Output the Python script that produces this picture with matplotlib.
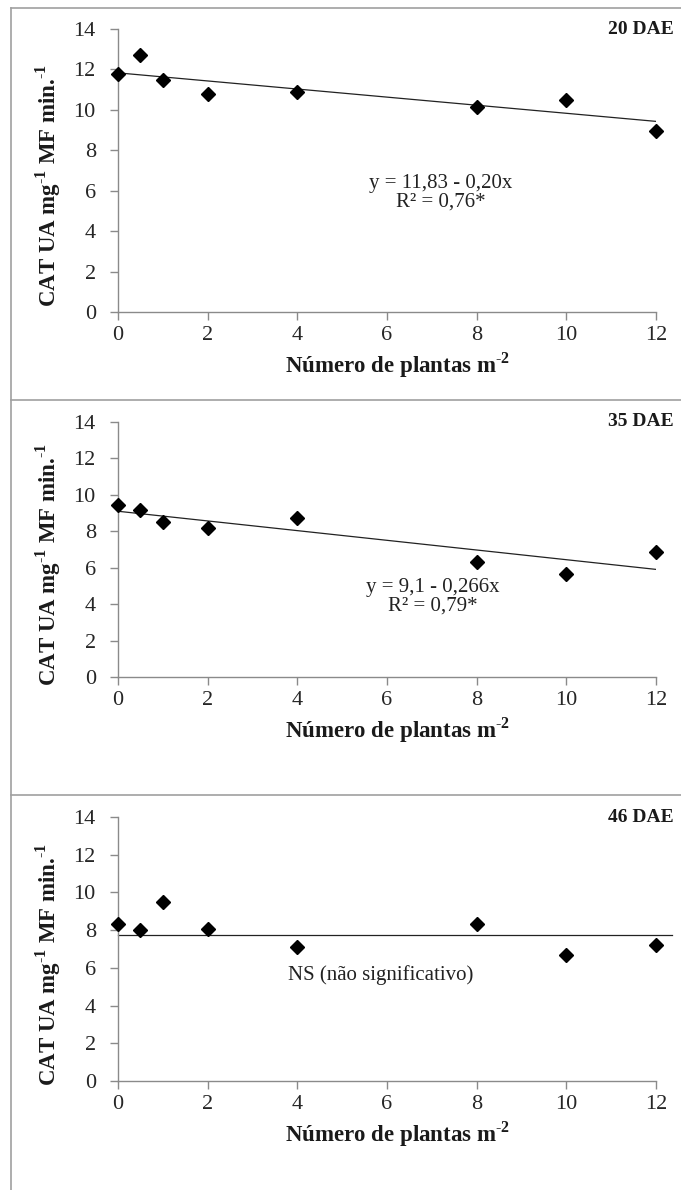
import numpy as np
import matplotlib
matplotlib.use("Agg")
import matplotlib.pyplot as plt
from matplotlib.lines import Line2D

plt.rcParams['font.family'] = ['Liberation Serif', 'DejaVu Serif']
plt.rcParams['mathtext.fontset'] = 'custom'
plt.rcParams['mathtext.rm'] = 'Liberation Serif'
plt.rcParams['mathtext.bf'] = 'Liberation Serif:bold'

# plant density (plants per m2)
densidade = [0, 0.5, 1, 2, 4, 8, 10, 12]

# CAT activity at each sampling date
cat_20 = [11.75, 12.7, 11.5, 10.8, 10.9, 10.15, 10.5, 8.95]
cat_35 = [9.45, 9.15, 8.5, 8.2, 8.75, 6.3, 5.65, 6.85]
cat_46 = [8.3, 8.0, 9.5, 8.05, 7.1, 8.3, 6.7, 7.2]

# fitted models
coef_20 = (11.83, -0.20)
coef_35 = (9.1, -0.266)
media_46 = 7.75

datas = ["20 DAE", "35 DAE", "46 DAE"]
yticks = [0, 2, 4, 6, 8, 10, 12, 14]
xticks = [0, 2, 4, 6, 8, 10, 12]

W, H = 681, 1190
fig = plt.figure(figsize=(W / 100, H / 100), dpi=100)

def px_axes(left, right, top, bottom):
    return fig.add_axes([left / W, 1 - bottom / H, (right - left) / W, (bottom - top) / H])

# panel frames
frame_kw = dict(color="#a0a0a0", lw=1.2, transform=fig.transFigure)
fig.add_artist(Line2D([11 / W, 11 / W], [0, 1 - 8 / H], **frame_kw))
for yy in (8, 400, 795):
    fig.add_artist(Line2D([11 / W, 1], [1 - yy / H, 1 - yy / H], **frame_kw))

paineis = [
    (29, 312, cat_20, datas[0]),
    (422, 677, cat_35, datas[1]),
    (817, 1081, cat_46, datas[2]),
]

ylab = "CAT UA mg$^{\\text{-}\\mathbf{1}}$ MF min.$^{\\text{-}\\mathbf{1}}$"
xlab = "Número de plantas m$^{\\text{-}\\mathbf{2}}$"

axes = []
for top, bottom, valores, titulo in paineis:
    ax = px_axes(118, 656, top, bottom)
    hpx = bottom - top
    ax.set_xlim(0, 12)
    ax.set_ylim(0, 14)
    ax.set_xticks(xticks)
    ax.set_yticks(yticks)
    for s in ("top", "right"):
        ax.spines[s].set_visible(False)
    for s in ("left", "bottom"):
        ax.spines[s].set_color("#8a8a8a")
        ax.spines[s].set_linewidth(1.0)
    ax.tick_params(direction="out", length=6, width=1.0, color="#8a8a8a",
                   labelsize=16, labelcolor="#262626")
    ax.tick_params(axis="y", pad=10)
    ax.tick_params(axis="x", pad=4)
    ax.plot(densidade, valores, "D", color="black", ms=7, clip_on=False, zorder=3)
    ax.set_xlabel(xlab, fontsize=16.5, fontweight="bold", color="#1a1a1a")
    ax.xaxis.set_label_coords(0.519, -38 / hpx)
    ax.set_ylabel(ylab, fontsize=16.5, fontweight="bold", color="#1a1a1a")
    ax.yaxis.set_label_coords(-55 / 538, 1 - (hpx * 0.5 + 15) / hpx)
    ax.text(12.4, 14, titulo, ha="right", va="center", fontsize=14,
            fontweight="bold", color="#1a1a1a")
    axes.append(ax)

xfit = np.array([0, 12])
ax1, ax2, ax3 = axes
ax1.plot(xfit, coef_20[0] + coef_20[1] * xfit, color="#222222", lw=0.9)
ax1.text(7.2, 5.9, "y = 11,83 - 0,20x\nR² = 0,76*", ha="center", va="center",
         fontsize=15, color="#222222", linespacing=0.95)

ax2.plot(xfit, coef_35[0] + coef_35[1] * xfit, color="#222222", lw=0.9)
ax2.text(7.03, 4.4, "y = 9,1 - 0,266x\nR² = 0,79*", ha="center", va="center",
         fontsize=15, color="#222222", linespacing=0.95)

ax3.plot([0, 12.35], [media_46, media_46], color="#222222", lw=0.9, clip_on=False)
ax3.text(5.87, 5.6, "NS (não significativo)", ha="center", va="center",
         fontsize=15, color="#222222")

fig.savefig("out.png", dpi=100)
